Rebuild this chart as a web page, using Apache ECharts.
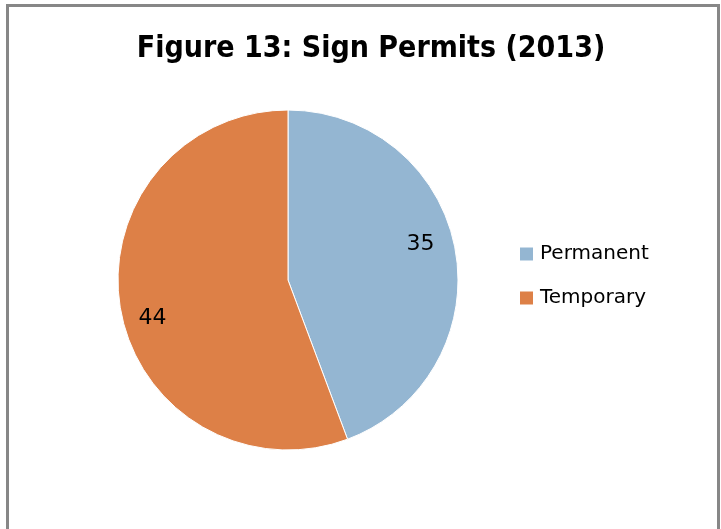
<!DOCTYPE html>
<html>
<head>
<meta charset="utf-8">
<script src="https://cdn.jsdelivr.net/npm/echarts@6/dist/echarts.min.js"></script>
<style>
  html, body { margin: 0; padding: 0; background: #fff; }
  #pie { width: 721px; height: 529px; }
</style>
</head>
<body>
<div id="pie"></div>
<script>
// data
var categories = ['Permanent', 'Temporary'];
var values = [35, 44];
var colors = ['#94b6d2', '#dd8047'];
// nudge the inside labels to where the original puts them
var labelOffsets = [[46, -20], [-49, 23]];

var chart = echarts.init(document.getElementById('pie'));

var pieData = categories.map(function (name, i) {
    return {
        name: name,
        value: values[i],
        itemStyle: { color: colors[i] },
        label: { offset: labelOffsets[i] }
    };
});

chart.setOption({
    backgroundColor: '#fff',
    animation: false,
    title: {
        text: 'Figure 13: Sign Permits (2013)',
        left: 366,
        top: 29,
        textAlign: 'center',
        textStyle: {
            fontFamily: "'DejaVu Sans Condensed', 'DejaVu Sans'",
            fontWeight: 'bold',
            fontSize: 30,
            color: '#000'
        }
    },
    legend: {
        orient: 'vertical',
        left: 513,
        top: 239,
        icon: 'rect',
        itemWidth: 15,
        itemHeight: 15,
        itemGap: 24,
        data: categories,
        textStyle: {
            fontFamily: 'DejaVu Sans',
            fontSize: 20,
            color: '#000',
            padding: [0, 0, 0, 1]
        }
    },
    graphic: [{
        type: 'rect',
        shape: { x: 7.5, y: 5.5, width: 711, height: 540 },
        style: { fill: 'none', stroke: '#878787', lineWidth: 3 },
        silent: true
    }],
    series: [{
        type: 'pie',
        center: [288, 280],
        radius: 170,
        startAngle: 90,
        clockwise: true,
        itemStyle: { borderColor: '#fff', borderWidth: 1 },
        label: {
            show: true,
            position: 'inside',
            formatter: '{c}',
            fontFamily: 'DejaVu Sans',
            fontSize: 22,
            color: '#000'
        },
        labelLine: { show: false },
        emphasis: { disabled: true },
        data: pieData
    }]
});
</script>
</body>
</html>
